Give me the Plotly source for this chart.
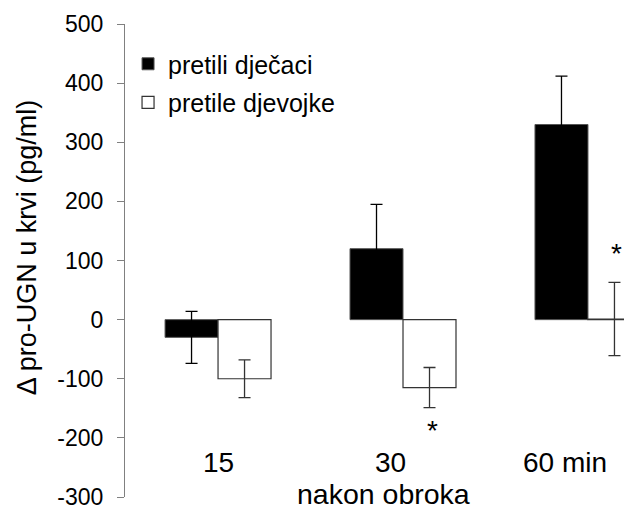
import plotly.graph_objects as go

categories = ["15", "30", "60"]
boys = [-30, 120, 330]
boys_err = [44, 75, 82]
girls = [-100, -115, 1]
girls_err = [32, 34, 62]
y_ticks = [500, 400, 300, 200, 100, 0, -100, -200, -300]
y_ticktext = ["500", "400", "300", "200", "100", "0", "-100", "-200", "-300"]
x_labels = ["15", "30", "60 min"]
x_label_shift = [0, -13, -23]

FONT = "Liberation Sans, Arial, sans-serif"

fig = go.Figure()
fig.add_trace(go.Bar(
    x=categories, y=boys, name="pretili dječaci",
    marker=dict(color="black", line=dict(color="#555555", width=1)),
    error_y=dict(type="data", array=boys_err, visible=True, color="black",
                 thickness=1.3, width=6),
    legendgroup="a",
))
fig.add_trace(go.Bar(
    x=categories, y=girls, name="pretile djevojke",
    marker=dict(color="white", line=dict(color="#333333", width=1.2)),
    error_y=dict(type="data", array=girls_err, visible=True, color="#333333",
                 thickness=1.3, width=6),
    legendgroup="b",
))

annotations = []
for i, (lab, sh) in enumerate(zip(x_labels, x_label_shift)):
    annotations.append(dict(x=i, y=-242, xref="x", yref="y", text=lab,
                            showarrow=False, xshift=sh, yanchor="middle",
                            font=dict(family=FONT, size=28, color="black")))
annotations.append(dict(x=1, y=-295, xref="x", yref="y", text="nakon obroka",
                        showarrow=False, xshift=-20, yanchor="middle",
                        font=dict(family=FONT, size=28.5, color="black")))
annotations.append(dict(x=1, y=-187, xref="x", yref="y", text="*",
                        showarrow=False, xshift=29, yanchor="middle",
                        font=dict(family=FONT, size=28, color="black")))
annotations.append(dict(x=2, y=112, xref="x", yref="y", text="*",
                        showarrow=False, xshift=29, yanchor="middle",
                        font=dict(family=FONT, size=28, color="black")))
annotations.append(dict(x=-98 / 507, y=0.528, xref="paper", yref="paper",
                        text="Δ pro-UGN u krvi (pg/ml)", textangle=-90,
                        showarrow=False, xanchor="center", yanchor="middle",
                        font=dict(family=FONT, size=27, color="black")))

fig.update_layout(
    width=624, height=502,
    margin=dict(l=117, r=0, t=16, b=11),
    paper_bgcolor="white", plot_bgcolor="white",
    barmode="group", bargap=0.427, bargroupgap=0,
    font=dict(family=FONT, color="black"),
    showlegend=True,
    legend=dict(x=0.006, y=0.964, xanchor="left", yanchor="top",
                font=dict(family=FONT, size=25, color="black"),
                bgcolor="rgba(0,0,0,0)", tracegroupgap=3),
    annotations=annotations,
    xaxis=dict(type="category", range=[-0.503, 2.238], showticklabels=False,
               showline=False, showgrid=False, zeroline=False, ticks=""),
    yaxis=dict(range=[-300, 500], tickvals=y_ticks, ticktext=y_ticktext,
               ticks="outside", ticklen=7, tickcolor="#808080", tickwidth=1,
               showline=True, linecolor="#808080", linewidth=1,
               showgrid=False, zeroline=False, ticklabelstandoff=9,
               ticklabeloverflow="allow",
               tickfont=dict(family=FONT, size=23, color="black")),
)

fig.write_html("out.html")
